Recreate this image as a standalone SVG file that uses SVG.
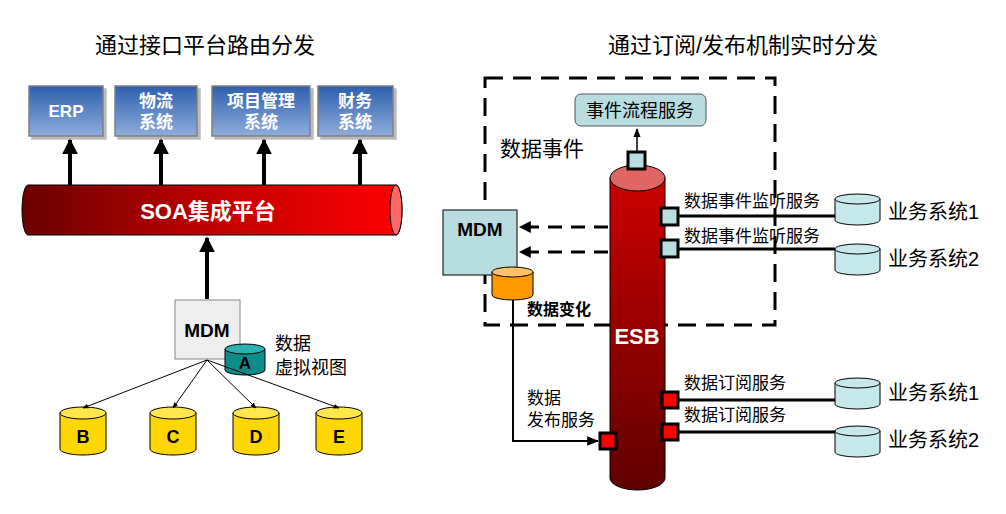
<svg xmlns="http://www.w3.org/2000/svg" width="1006" height="514" viewBox="0 0 1006 514">
<style>
text{font-family:"Liberation Sans","Noto Sans CJK SC",sans-serif;fill:#000}
.t{font-size:20px}
.h{font-size:22px}
.b{font-weight:bold}
.app{fill:url(#blue);stroke:#7f7f7f;stroke-width:1.5}
.at{font-size:17px;font-weight:bold;fill:#fff;text-anchor:middle}
.th{stroke:#000;stroke-width:4}
.ln{stroke:#000;stroke-width:2;fill:none}
.yd{fill:#ffd700;stroke:#000;stroke-width:1}
.cd{fill:#c6e8ea;stroke:#000;stroke-width:1}
.sq{fill:#b8dde0;stroke:#000;stroke-width:3}
.rq{fill:#f00;stroke:#000;stroke-width:3}
.l{font-size:17px}
</style>
<defs>
<linearGradient id="blue" x1="0" y1="0" x2="0" y2="1"><stop offset="0" stop-color="#2e5fae"/><stop offset="1" stop-color="#8eaedc"/></linearGradient>
<linearGradient id="soa" x1="0" y1="0" x2="1" y2="0"><stop offset="0" stop-color="#6b0000"/><stop offset="0.5" stop-color="#c00000"/><stop offset="1" stop-color="#ff0000"/></linearGradient>
<linearGradient id="esb" x1="0" y1="0" x2="0" y2="1"><stop offset="0" stop-color="#cc0000"/><stop offset="1" stop-color="#600000"/></linearGradient>
<marker id="ah" viewBox="0 0 10 10" refX="9" refY="5" markerWidth="4" markerHeight="4" orient="auto"><path d="M0,0L10,5L0,10z" fill="#000"/></marker>
<marker id="as" viewBox="0 0 10 10" refX="9" refY="5" markerWidth="6" markerHeight="6" orient="auto"><path d="M0,1L10,5L0,9z" fill="#000"/></marker>
<filter id="sh"><feDropShadow dx="3" dy="3" stdDeviation="0.5" flood-color="#bbb"/></filter>
</defs>
<text class="h" x="205" y="53" text-anchor="middle">通过接口平台路由分发</text>
<text class="h" x="743" y="53" text-anchor="middle">通过订阅/发布机制实时分发</text>

<g id="erp"><rect class="app" filter="url(#sh)" x="29" y="86" width="74" height="50"/><text class="at" x="66" y="117">ERP</text></g>
<g id="wl"><rect class="app" filter="url(#sh)" x="115" y="86" width="82" height="50"/><text class="at" x="156" y="107">物流</text><text class="at" x="156" y="128">系统</text></g>
<g id="xm"><rect class="app" filter="url(#sh)" x="212" y="86" width="98" height="50"/><text class="at" x="261" y="107">项目管理</text><text class="at" x="261" y="128">系统</text></g>
<g id="cw"><rect class="app" filter="url(#sh)" x="318" y="86" width="75" height="50"/><text class="at" x="355" y="107">财务</text><text class="at" x="355" y="128">系统</text></g>

<g id="soa">
<path d="M28,185 H396 A6,25 0 0 1 396,235 H28 A6,25 0 0 1 28,185Z" fill="url(#soa)" stroke="#000"/>
<ellipse cx="396" cy="210" rx="6" ry="25" fill="#ff6666" stroke="#000"/>
<text x="208" y="219" text-anchor="middle" class="b" style="font-size:22px;fill:#fff">SOA集成平台</text>
</g>

<g id="mdm1"><rect x="175" y="300" width="65" height="59" fill="#eee" stroke="#888"/><text x="207" y="337" text-anchor="middle" class="b" style="font-size:19px">MDM</text></g>
<g id="dbA"><path d="M225,349 V370 A20,5 0 0 0 265,370 V349" fill="#0e8c8c" stroke="#000"/><ellipse cx="245" cy="349" rx="20" ry="5" fill="#2cb0b0" stroke="#000"/><text x="245" y="369" text-anchor="middle" class="b" style="font-size:17px">A</text></g>
<text x="275" y="350" style="font-size:18px">数据</text><text x="275" y="374" style="font-size:18px">虚拟视图</text>

<g id="dbB"><path d="M60,413 V449 A23,6 0 0 0 106,449 V413" class="yd"/><ellipse cx="83" cy="413" rx="23" ry="6" fill="#ffe74d" stroke="#000"/><text x="83" y="443" text-anchor="middle" class="b" style="font-size:18px">B</text></g>
<g id="dbC"><path d="M150,413 V449 A23,6 0 0 0 196,449 V413" class="yd"/><ellipse cx="173" cy="413" rx="23" ry="6" fill="#ffe74d" stroke="#000"/><text x="173" y="443" text-anchor="middle" class="b" style="font-size:18px">C</text></g>
<g id="dbD"><path d="M233,413 V449 A23,6 0 0 0 279,449 V413" class="yd"/><ellipse cx="256" cy="413" rx="23" ry="6" fill="#ffe74d" stroke="#000"/><text x="256" y="443" text-anchor="middle" class="b" style="font-size:18px">D</text></g>
<g id="dbE"><path d="M316,413 V449 A23,6 0 0 0 362,449 V413" class="yd"/><ellipse cx="339" cy="413" rx="23" ry="6" fill="#ffe74d" stroke="#000"/><text x="339" y="443" text-anchor="middle" class="b" style="font-size:18px">E</text></g>

<rect x="485" y="78" width="290" height="247" fill="none" stroke="#000" stroke-width="3" stroke-dasharray="18,10"/>
<g id="evt"><rect x="575" y="94" width="131" height="32" rx="6" fill="#b8dde0" stroke="#555"/><text x="640" y="117" text-anchor="middle" style="font-size:18px">事件流程服务</text></g>
<text x="500" y="156" style="font-size:21px">数据事件</text>

<g id="esb">
<path d="M610,178 V478 A27.5,12 0 0 0 665,478 V178Z" fill="url(#esb)" stroke="#000"/>
<ellipse cx="637.5" cy="178" rx="27.5" ry="13" fill="#e06666" stroke="#000"/>
<text x="637" y="344" text-anchor="middle" class="b" style="font-size:22px;fill:#fff">ESB</text>
</g>

<g id="mdm2"><rect x="443" y="210" width="74" height="65" fill="#b8dde0" stroke="#000"/><text x="480" y="236" text-anchor="middle" class="b" style="font-size:19px">MDM</text></g>
<g id="dbO"><path d="M492,272 V295 A20.5,5 0 0 0 533,295 V272" fill="#ff9900" stroke="#000"/><ellipse cx="512.5" cy="272" rx="20.5" ry="5" fill="#ffc266" stroke="#000"/></g>
<text x="527" y="315" class="b" style="font-size:16px">数据变化</text>
<text class="l" x="527" y="404">数据</text><text class="l" x="527" y="426">发布服务</text>

<g id="c1"><path d="M835,199 V220 A22.5,5 0 0 0 880,220 V199" class="cd"/><ellipse cx="857.5" cy="199" rx="22.5" ry="5" class="cd"/></g>
<g id="c2"><path d="M835,249 V270 A22.5,5 0 0 0 880,270 V249" class="cd"/><ellipse cx="857.5" cy="249" rx="22.5" ry="5" class="cd"/></g>
<g id="c3"><path d="M835,383 V404 A22.5,5 0 0 0 880,404 V383" class="cd"/><ellipse cx="857.5" cy="383" rx="22.5" ry="5" class="cd"/></g>
<g id="c4"><path d="M835,431 V452 A22.5,5 0 0 0 880,452 V431" class="cd"/><ellipse cx="857.5" cy="431" rx="22.5" ry="5" class="cd"/></g>
<text class="t" x="888" y="219">业务系统1</text>
<text class="t" x="888" y="266">业务系统2</text>
<text class="t" x="888" y="400">业务系统1</text>
<text class="t" x="888" y="447">业务系统2</text>
<text class="l" x="684" y="207">数据事件监听服务</text>
<text class="l" x="684" y="242">数据事件监听服务</text>
<text class="l" x="684" y="389">数据订阅服务</text>
<text class="l" x="684" y="421">数据订阅服务</text>

<g id="connectors">
<line class="th" x1="70" y1="185" x2="70" y2="140" marker-end="url(#ah)"/>
<line class="th" x1="161" y1="185" x2="161" y2="140" marker-end="url(#ah)"/>
<line class="th" x1="264" y1="185" x2="264" y2="140" marker-end="url(#ah)"/>
<line class="th" x1="360" y1="185" x2="360" y2="140" marker-end="url(#ah)"/>
<line class="th" x1="207" y1="299" x2="207" y2="238" marker-end="url(#ah)"/>
<g stroke="#000" stroke-width="1" marker-end="url(#as)">
<line x1="207" y1="360" x2="83" y2="408"/>
<line x1="207" y1="360" x2="173" y2="408"/>
<line x1="207" y1="360" x2="256" y2="408"/>
<line x1="207" y1="360" x2="339" y2="408"/>
</g>
<line x1="637" y1="151" x2="637" y2="129" stroke="#000" stroke-width="1.5" marker-end="url(#as)"/>
<line x1="608" y1="227" x2="520" y2="227" stroke="#000" stroke-width="3" stroke-dasharray="14,9" marker-end="url(#ah)"/>
<line x1="608" y1="252" x2="520" y2="252" stroke="#000" stroke-width="3" stroke-dasharray="14,9" marker-end="url(#ah)"/>
<polyline class="ln" points="513,300 513,441 598,441" stroke-width="2.5" marker-end="url(#as)"/>
<g stroke="#000" stroke-width="3">
<line x1="678" y1="216" x2="835" y2="216"/>
<line x1="678" y1="249" x2="835" y2="249"/>
<line x1="678" y1="400" x2="835" y2="400"/>
<line x1="678" y1="432" x2="835" y2="432"/>
</g>
</g>
<rect class="sq" x="628" y="152" width="17" height="17"/>
<rect class="sq" x="661" y="208" width="17" height="17"/>
<rect class="sq" x="661" y="240" width="17" height="17"/>
<rect class="rq" x="662" y="392" width="16" height="16"/>
<rect class="rq" x="662" y="424" width="16" height="16"/>
<rect class="rq" x="600" y="433" width="16" height="16"/>
</svg>
